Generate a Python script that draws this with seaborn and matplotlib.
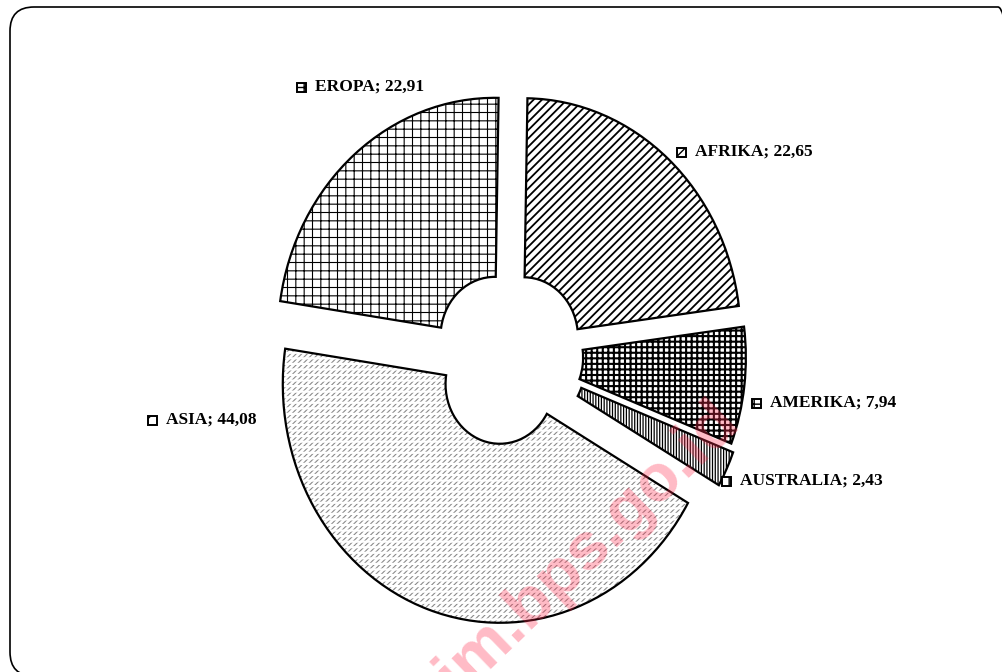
import matplotlib
matplotlib.use('Agg')
import matplotlib.pyplot as plt
import seaborn as sns
from matplotlib.patches import FancyBboxPatch, Rectangle
from matplotlib.transforms import IdentityTransform

# share by continent (%), clockwise from 12 o'clock
continents = ['AFRIKA', 'AMERIKA', 'AUSTRALIA', 'ASIA', 'EROPA']
shares = [22.65, 7.94, 2.43, 44.08, 22.91]

hatches = ['////', '+++', '||||||', '//////', '++']
hatch_colors = ['black', 'black', 'black', '#8a8a8a', 'black']
hatch_widths = [1.3, 1.5, 0.9, 0.8, 0.8]
explode_px = [22, 20, 24, 28, 22]

# label anchor (pixel coords of the little key box: left, vertical centre)
label_pos = [(677, 152), (752, 403), (722, 481), (148, 420), (297, 87)]

W, H = 1002, 672
K = 1.10           # source picture is a bit stretched vertically
CX, CY = 509, 355  # pie centre in pixels
R = 217
HOLE = 0.25

sns.set_theme(style='white')
plt.rcParams['font.family'] = ['Liberation Serif', 'DejaVu Serif']
plt.rcParams['hatch.linewidth'] = 1.0

fig = plt.figure(figsize=(W / 100, H / 100), dpi=100)
ax = fig.add_axes([0, 0, 1, 1])

centre = (CX, (H - CY) / K)
common = dict(startangle=89, counterclock=False, radius=R, center=centre,
              explode=explode_px)
ring = R * (1 - HOLE)

# hatched fills
fills, _ = ax.pie(shares, colors=['white'] * len(shares), hatch=hatches,
                  wedgeprops=dict(width=ring, linewidth=0), **common)
for w, c, lw in zip(fills, hatch_colors, hatch_widths):
    w.set_edgecolor(c)
    w.set_linewidth(0)
    if hasattr(w, 'set_hatch_linewidth'):
        w.set_hatch_linewidth(lw)

# white horizontal breaks give the ASIA fill its dashed-row look
breaks, _ = ax.pie(shares, hatch=['', '', '', '---', ''],
                   wedgeprops=dict(width=ring, fill=False, linewidth=0), **common)
for i, w in enumerate(breaks):
    w.set_edgecolor('white')
    w.set_linewidth(0)
    if hasattr(w, 'set_hatch_linewidth'):
        w.set_hatch_linewidth(1.6)
    if i != 3:
        w.set_visible(False)

# black outlines on top
outlines, _ = ax.pie(shares, wedgeprops=dict(width=ring, fill=False,
                                             edgecolor='black', linewidth=1.6),
                     **common)

ax.set_xlim(0, W)
ax.set_ylim(0, H / K)
ax.set_aspect('auto')
ax.axis('off')

# data labels with a small key box
for name, val, (kx, ky), hp in zip(continents, shares, label_pos, hatches):
    box = Rectangle((kx / W, 1 - (ky + 4.5) / H), 9 / W, 9 / H, transform=ax.transAxes,
                    facecolor='white', edgecolor='black', hatch=hp[:2], linewidth=1.4)
    ax.add_patch(box)
    txt = f'{name}; {val:.2f}'.replace('.', ',')
    ax.text((kx + 18) / W, 1 - ky / H, txt, transform=ax.transAxes,
            ha='left', va='center', fontsize=12.5, fontweight='bold', color='black')

# watermark
ax.text(742 / W, 1 - 427 / H, 'jatim.bps.go.id', transform=ax.transAxes,
        rotation=44, rotation_mode='anchor', ha='right', va='baseline',
        fontsize=48, fontweight='bold', color='#ff3050', alpha=0.33,
        family='Liberation Sans')

# rounded frame (right and bottom sides run just past the picture edge)
frame = FancyBboxPatch((10, -4), 1012, H - 7 + 4, boxstyle='round,pad=0,rounding_size=24',
                       transform=IdentityTransform(), fill=False, edgecolor='black',
                       linewidth=1.2)
fig.patches.append(frame)

fig.savefig('out.png', dpi=100, facecolor='white')
